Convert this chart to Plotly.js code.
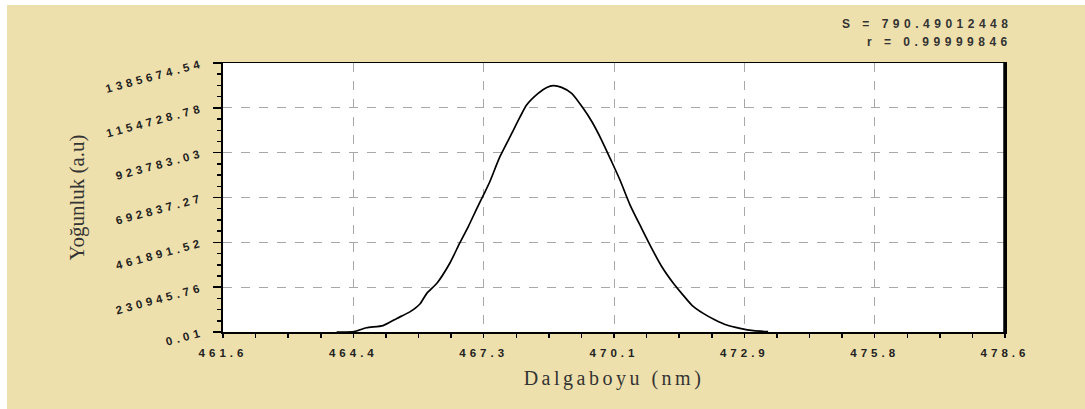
<!DOCTYPE html>
<html>
<head>
<meta charset="utf-8">
<script src="https://cdn.plot.ly/plotly-3.0.1.min.js"></script>
<style>
  html, body { margin: 0; padding: 0; background: #ffffff; width: 1085px; height: 409px; overflow: hidden; }
  #chart { position: absolute; left: 7px; top: 5px; width: 1078px; height: 404px; }
  .xtick text, .ytick text { letter-spacing: 4px; }
  .xtitle { letter-spacing: 3.5px; }
  .annotation-text { letter-spacing: 4.5px; }
</style>
</head>
<body>
<div id="chart"></div>
<script>
// Wavelength (nm) and intensity (a.u.)
const wavelength = [464.07, 464.45, 464.72, 465.08, 465.38, 465.67, 465.88, 466.03, 466.25, 466.53,
  466.75, 466.93, 467.12, 467.28, 467.40, 467.62, 467.88, 468.06, 468.20, 468.45,
  468.64, 468.78, 468.96, 469.18, 469.43, 469.62, 469.83, 470.05, 470.23, 470.45,
  470.70, 470.92, 471.14, 471.39, 471.57, 471.79, 472.04, 472.30, 472.55, 472.84,
  473.13, 473.45];
const intensity = [0, 2000, 22000, 33000, 70000, 105000, 144000, 199000, 251000, 354000,
  460000, 542000, 637000, 714000, 774000, 903000, 1024000, 1109000, 1169000, 1229000,
  1260000, 1268700, 1260000, 1229000, 1152000, 1083000, 989000, 877000, 783000, 654000,
  534000, 431000, 336000, 251000, 199000, 139000, 96000, 62000, 36000, 19000,
  7000, 1500];

const xTickVals = [461.6, 464.4333, 467.2667, 470.1, 472.9333, 475.7667, 478.6];
const xTickText = ["461.6", "464.4", "467.3", "470.1", "472.9", "475.8", "478.6"];
const yTickVals = [0.01, 230945.76, 461891.52, 692837.27, 923783.03, 1154728.78, 1385674.54];
const yTickText = ["0.01", "230945.76", "461891.52", "692837.27", "923783.03", "1154728.78", "1385674.54"];
const statLines = ["S = 790.49012448", "r = 0.99999846"];

const tickFont = { family: "Liberation Sans, Arial, sans-serif", size: 11.5, color: "#222222", weight: 700 };

const trace = {
  x: wavelength, y: intensity, type: "scatter", mode: "lines",
  line: { color: "#000000", width: 1.7, shape: "spline", smoothing: 0.6 },
  hoverinfo: "skip", showlegend: false
};

const layout = {
  width: 1078, height: 404,
  margin: { l: 216, r: 80, t: 58, b: 77 },
  paper_bgcolor: "#EEE0AC",
  plot_bgcolor: "#ffffff",
  showlegend: false,
  xaxis: {
    range: [461.6, 478.6],
    tickmode: "array", tickvals: xTickVals, ticktext: xTickText,
    tickfont: tickFont,
    ticks: "outside", ticklen: 4, tickwidth: 1.5, tickcolor: "#000",
    minor: { tick0: 461.6, dtick: 17 / 24, ticks: "outside", ticklen: 4, tickwidth: 1.5, tickcolor: "#000", showgrid: false },
    showgrid: true, gridcolor: "#a8a8a8", griddash: "dash", gridwidth: 1,
    showline: true, linecolor: "#000", linewidth: 1.5, mirror: true,
    zeroline: false,
    ticklabelstandoff: 6,
    title: { text: "Dalgaboyu (nm)", font: { family: "Liberation Serif, Times New Roman, serif", size: 20, color: "#333333" }, standoff: 12 }
  },
  yaxis: {
    range: [0.01, 1385674.54],
    tickmode: "array", tickvals: yTickVals, ticktext: yTickText,
    tickfont: tickFont, tickangle: -15,
    ticks: "outside", ticklen: 8, tickwidth: 1.5, tickcolor: "#000",
    minor: { tick0: 0.01, dtick: 230945.76 / 4, ticks: "outside", ticklen: 4, tickwidth: 1.5, tickcolor: "#000", showgrid: false },
    showgrid: true, gridcolor: "#a8a8a8", griddash: "dash", gridwidth: 1,
    showline: true, linecolor: "#000", linewidth: 2, mirror: true,
    zeroline: false,
    ticklabelstandoff: 8,
    title: { text: "Yoğunluk (a.u)", font: { family: "Liberation Serif, Times New Roman, serif", size: 21, color: "#333333" }, standoff: 14 }
  },
  shapes: [
    { type: "line", xref: "paper", yref: "paper", x0: 1, x1: 1, y0: 0, y1: 1, line: { color: "#000", width: 3.5 } }
  ],
  annotations: [
    { text: statLines[0], xref: "paper", yref: "paper", x: 1.012, y: 1.145, xanchor: "right", yanchor: "middle", showarrow: false,
      font: { family: "Liberation Sans, Arial, sans-serif", size: 12, color: "#333333", weight: 700 } },
    { text: statLines[1], xref: "paper", yref: "paper", x: 1.012, y: 1.078, xanchor: "right", yanchor: "middle", showarrow: false,
      font: { family: "Liberation Sans, Arial, sans-serif", size: 12, color: "#333333", weight: 700 } }
  ]
};

Plotly.newPlot("chart", [trace], layout, { staticPlot: true, displayModeBar: false });
</script>
</body>
</html>
